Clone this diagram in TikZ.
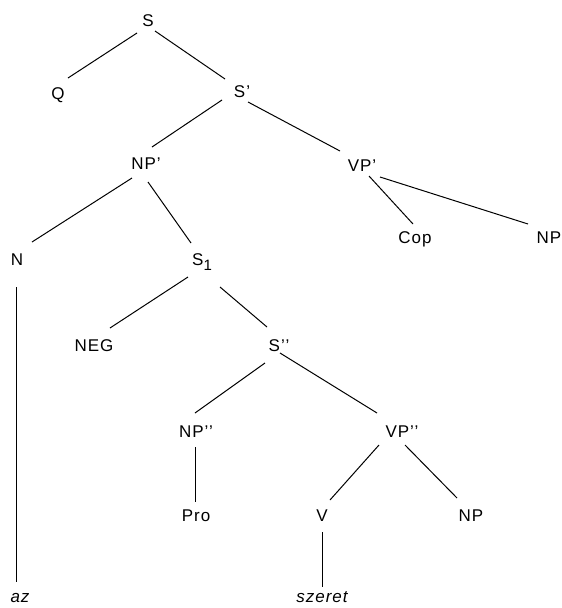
\documentclass[tikz,border=0pt]{standalone}
\usepackage{fontspec}
\setmainfont[LetterSpace=6]{Liberation Sans}
\begin{document}
\begin{tikzpicture}[x=1pt,y=-1pt,
  lbl/.style={inner sep=0pt, text height=12pt, text depth=0pt, font=\fontsize{17}{17}\selectfont},
  word/.style={inner sep=0pt, anchor=base, font=\fontsize{17}{17}\selectfont\itshape},
  edge/.style={line width=1pt}]
\useasboundingbox (0,0) rectangle (562,608);
\node[lbl] (S) at (148,20) {S};
\node[lbl] (Q) at (58,93) {Q};
\node[lbl] (Sp) at (242,91) {S’};
\node[lbl] (NPp) at (146,163) {NP’};
\node[lbl] (VPp) at (362,165) {VP’};
\node[lbl] (Cop) at (415,237) {Cop};
\node[lbl] (NPa) at (549,237) {NP};
\node[lbl] (N) at (17,259) {N};
\node[lbl] (S1) at (202,259) {S\raisebox{-5pt}{\fontsize{15}{15}\selectfont 1}};
\node[lbl] (NEG) at (94,345) {NEG};
\node[lbl] (Spp) at (279,345) {S’’};
\node[lbl] (NPpp) at (196,431) {NP’’};
\node[lbl] (VPpp) at (402,431) {VP’’};
\node[lbl] (Pro) at (196,515) {Pro};
\node[lbl] (V) at (322,515) {V};
\node[lbl] (NPb) at (471,515) {NP};
\node[word] (sz) at (322,602) {szeret};
\node[word] (az) at (20,602) {az};
\draw[edge] ([shift={(-11,13)}]S.center) -- ([shift={(10,-15)}]Q.center);
\draw[edge] ([shift={(7,11)}]S.center) -- ([shift={(-17,-12)}]Sp.center);
\draw[edge] ([shift={(-20,9)}]Sp.center) -- ([shift={(6,-16)}]NPp.center);
\draw[edge] ([shift={(6,11)}]Sp.center) -- ([shift={(-22,-14)}]VPp.center);
\draw[edge] ([shift={(7,11)}]VPp.center) -- ([shift={(-2,-13)}]Cop.center);
\draw[edge] ([shift={(18,12)}]VPp.center) -- ([shift={(-21,-13)}]NPa.center);
\draw[edge] ([shift={(-14,15)}]NPp.center) -- ([shift={(15,-17)}]N.center);
\draw[edge] ([shift={(2,19)}]NPp.center) -- ([shift={(-11,-16)}]S1.center);
\draw[edge] ([shift={(-14,18)}]S1.center) -- ([shift={(16,-17)}]NEG.center);
\draw[edge] ([shift={(18,28)}]S1.center) -- ([shift={(-12,-18)}]Spp.center);
\draw[edge] ([shift={(-14,18)}]Spp.center) -- ([shift={(-1,-18)}]NPpp.center);
\draw[edge] ([shift={(1,8)}]Spp.center) -- ([shift={(-25,-18)}]VPpp.center);
\draw[edge] ([shift={(-1,16)}]NPpp.center) -- ([shift={(-1,-13)}]Pro.center);
\draw[edge] ([shift={(-23,14)}]VPpp.center) -- ([shift={(8,-15)}]V.center);
\draw[edge] ([shift={(3,14)}]VPpp.center) -- ([shift={(-14,-17)}]NPb.center);
\draw[edge] ([shift={(0,17)}]V.center) -- ([shift={(0,-15)}]sz.base);
\draw[edge] ([shift={(-1,28)}]N.center) -- ([shift={(-4,-20)}]az.base);
\end{tikzpicture}
\end{document}
